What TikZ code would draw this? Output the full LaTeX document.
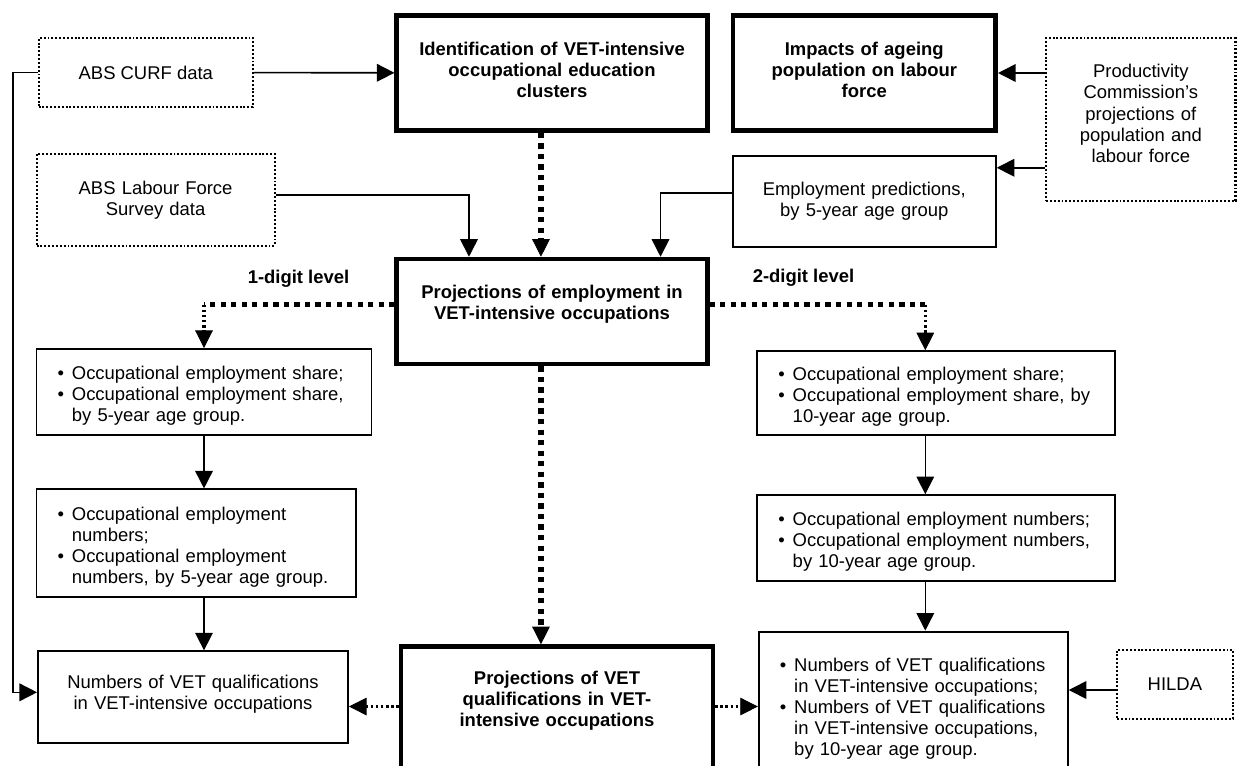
\documentclass[tikz,border=0pt]{standalone}
\usepackage{fontspec}
\setmainfont{Liberation Sans}
\usetikzlibrary{arrows.meta,positioning}

\newcommand{\bul}{\par\noindent\hangindent=8.2pt\hangafter=1\makebox[8.2pt][l]{\textbullet}}
\newcommand{\lift}[1]{\rule[-#1]{0pt}{#1}}

\begin{document}
\begin{tikzpicture}[
  x=0.02cm, y=-0.02cm,
  font=\fontsize{10.5}{12}\selectfont,
  mainbox/.style={draw, line width=2.6pt, align=center, inner sep=0pt, font=\fontsize{10.5}{12}\selectfont\bfseries},
  plainbox/.style={draw, line width=1.1pt, align=center, inner sep=0pt},
  listbox/.style={draw, line width=1.1pt, align=left, inner xsep=0.42cm, inner ysep=0pt},
  srcbox/.style={draw, line width=1.2pt, dash pattern=on 1.1pt off 1.1pt, align=center, inner sep=0pt},
  lvl/.style={font=\fontsize{10.5}{12}\selectfont\bfseries},
  arr/.style={-{Triangle[length=10pt,width=10pt]}, line width=0.9pt},
  dotarr/.style={-{Triangle[length=10pt,width=10pt,line width=0.5pt]}, line width=1.8pt, dash pattern=on 1.5pt off 1.4pt},
  thickdot/.style={line width=3pt, dash pattern=on 3pt off 3pt},
  thickarr/.style={thickdot, -{Triangle[length=10pt,width=10pt,line width=0.5pt]}}
]
  \useasboundingbox (0,0) rectangle (1245,765);
  \clip (0,0) rectangle (1245,765);

  % top row
  \node[srcbox, minimum width=4.29cm, minimum height=1.38cm] (curf) at (145.8,72.5) {ABS CURF data};
  \node[mainbox, text width=6cm, minimum width=6.21cm, minimum height=2.30cm] (ident) at (552,73) {Identification of VET-intensive\\occupational education\\clusters\lift{3.4pt}};
  \node[mainbox, text width=5cm, minimum width=5.26cm, minimum height=2.30cm, right=0.42cm of ident] (impact) {Impacts of ageing\\population on labour\\force\lift{3.4pt}};
  \node[srcbox, text width=3.5cm, minimum width=3.79cm, minimum height=3.26cm] (prod) at (1140.8,119.5) {Productivity\\Commission’s\\projections of\\population and\\labour force\lift{7pt}};

  % second row
  \node[srcbox, text width=4.5cm, minimum width=4.76cm, minimum height=1.84cm] (lfs) at (155.6,200) {ABS Labour Force\\Survey data};
  \node[plainbox, text width=5cm, minimum width=5.26cm, minimum height=1.82cm, below=0.44cm of impact] (emppred) {Employment predictions,\\by 5-year age group};

  % centre column
  \node[mainbox, text width=6cm, minimum width=6.21cm, minimum height=2.10cm, below=2.48cm of ident] (projemp) {Projections of employment in\\VET-intensive occupations\lift{10.7pt}};
  \node[mainbox, text width=6cm, minimum width=6.24cm, minimum height=2.50cm, below=5.56cm of projemp, xshift=0.1cm] (projvet) {Projections of VET\\qualifications in VET-\\intensive occupations\lift{11.8pt}};

  \node[lvl] (onedigit) at (298.5,279) {1-digit level};
  \node[lvl] (twodigit) at (803.5,278) {2-digit level};

  % 1-digit branch
  \node[listbox, text width=5.86cm, minimum height=1.72cm] (L1) at (204,392) {\bul Occupational employment share;\bul Occupational employment share,\newline by 5-year age group.\par};
  \node[listbox, text width=5.55cm, minimum height=2.16cm, below=1.05cm of L1.south west, anchor=north west] (L2) {\bul Occupational employment\newline numbers;\bul Occupational employment\newline numbers, by 5-year age group.\par};
  \node[plainbox, text width=5.9cm, minimum width=6.20cm, minimum height=1.84cm, below=1.04cm of L2.south west, anchor=north west, xshift=0.03cm] (L3) {Numbers of VET qualifications\\in VET-intensive occupations\lift{6pt}};

  % 2-digit branch
  \node[listbox, text width=6.32cm, minimum height=1.67cm] (R1) at (936.3,393) {\bul Occupational employment share;\bul Occupational employment share, by\newline 10-year age group.\par};
  \node[listbox, text width=6.32cm, minimum height=1.72cm, below=1.17cm of R1] (R2) {\bul Occupational employment numbers;\bul Occupational employment numbers,\newline by 10-year age group.\par};
  \node[listbox, text width=5.34cm, minimum height=2.94cm, below=0.97cm of R2.south west, anchor=north west, xshift=0.03cm] (R3) {\bul Numbers of VET qualifications\newline in VET-intensive occupations;\bul Numbers of VET qualifications\newline in VET-intensive occupations,\newline by 10-year age group.\par};
  \node[srcbox, minimum width=2.32cm, minimum height=1.38cm] (hilda) at (1174.9,684.5) {HILDA};

  % connectors
  \draw[arr] (curf) -- (ident);
  \draw[arr] (prod.west |- impact.east) -- (impact.east);
  \coordinate (predin) at ([yshift=-0.26cm]emppred.north east);
  \draw[arr] (prod.west |- predin) -- (predin);
  \draw[arr] ([yshift=0.17cm]emppred.west) -| ([xshift=-0.98cm]projemp.north east);
  \draw[arr] ([yshift=0.1cm]lfs.east) -| ([xshift=1.49cm]projemp.north west);

  \coordinate (spine) at ([xshift=2.93cm]ident.south west);
  \draw[thickarr] (spine) -- (spine |- projemp.north);
  \coordinate (spinelow) at ([xshift=2.93cm]projemp.south west);
  \draw[thickarr] (spinelow) -- (spinelow |- projvet.north);

  \coordinate (leftout) at ([yshift=0.14cm]projemp.west);
  \draw[thickdot] (leftout) -- (leftout -| L1.north) coordinate (leftturn);
  \draw[dotarr] (leftturn) -- (L1.north);
  \coordinate (rightout) at ([yshift=0.14cm]projemp.east);
  \coordinate (rightin) at ([xshift=-0.22cm]R1.north);
  \draw[thickdot] (rightout) -- (rightout -| rightin) coordinate (rightturn);
  \draw[dotarr] (rightturn) -- (rightin);

  \draw[arr] (L1.south) -- (L1.south |- L2.north);
  \draw[arr] (L1.south |- L2.south) -- (L1.south |- L3.north);
  \draw[arr] (rightin |- R1.south) -- (rightin |- R2.north);
  \draw[arr] (rightin |- R2.south) -- (rightin |- R3.north);

  \coordinate (vetleft) at ([yshift=0.05cm]projvet.west);
  \coordinate (vetright) at ([yshift=0.05cm]projvet.east);
  \draw[dotarr] (vetleft) -- (vetleft -| L3.east);
  \draw[dotarr] (vetright) -- (vetright -| R3.west);
  \coordinate (hildaout) at ([yshift=-0.11cm]hilda.west);
  \draw[arr] (hildaout) -- (hildaout -| R3.east);
  \draw[arr] (curf.west) -- ++(-0.49cm,0) |- ([yshift=0.1cm]L3.west);
\end{tikzpicture}
\end{document}
